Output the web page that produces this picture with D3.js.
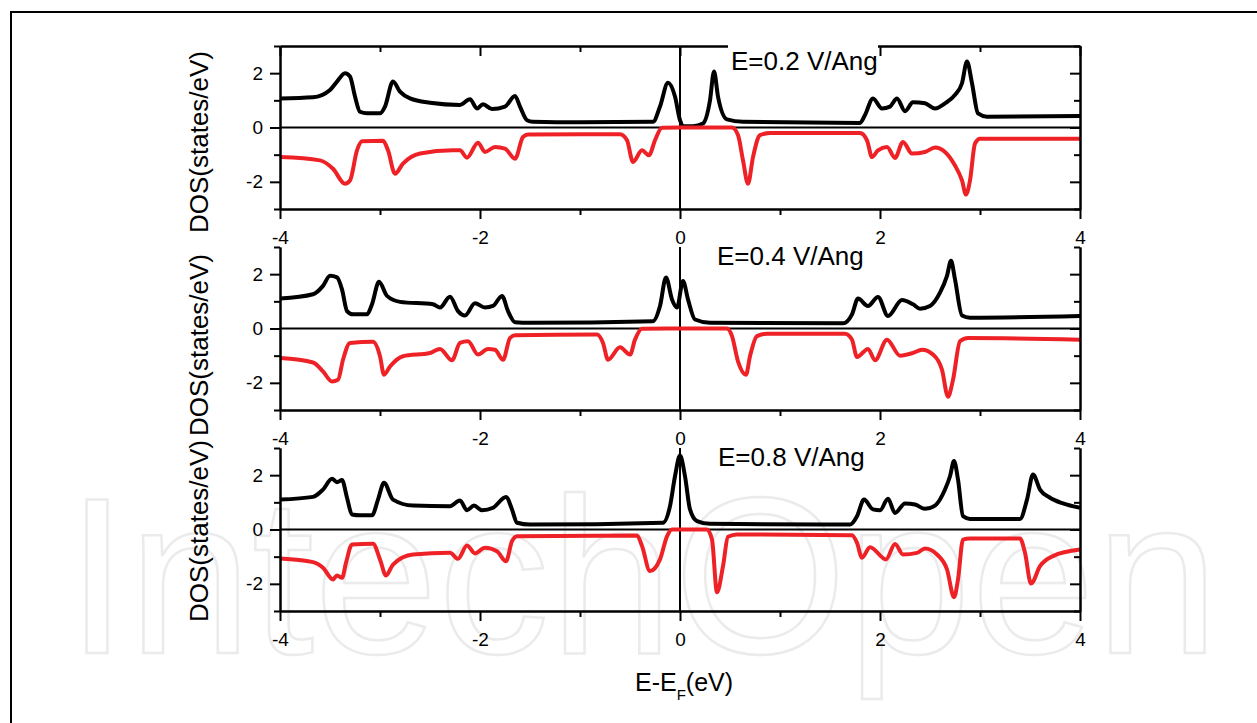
<!DOCTYPE html>
<html>
<head>
<meta charset="utf-8">
<script src="https://cdnjs.cloudflare.com/ajax/libs/d3/7.8.5/d3.min.js"></script>
<style>
	body { margin: 0; background: #ffffff; }
	svg { display: block; font-family: "Liberation Sans", Arial, sans-serif; }
</style>
</head>
<body>
<svg id="svg-port" width="1257" height="723"></svg>
<script>
// DOS: energy (eV) and states/eV, spin up (black) and spin down (red)
var upE02 = [-4, -3.67, -3.5, -3.43, -3.35, -3.3, -3.25, -3.2, -3.13, -3.0, -2.95, -2.87, -2.8, -2.7, -2.5, -2.2, -2.1, -2.03, -1.97, -1.88, -1.75, -1.65, -1.6, -1.53, -1.47, -1.0, -0.27, -0.2, -0.12, -0.05, 0.0, 0.03, 0.13, 0.23, 0.3, 0.34, 0.38, 0.47, 0.63, 1.8, 1.85, 1.93, 2.02, 2.1, 2.17, 2.25, 2.33, 2.45, 2.55, 2.65, 2.75, 2.82, 2.87, 2.92, 2.98, 3.07, 4.0];
var up02 = [1.07, 1.11, 1.38, 1.69, 2.0, 1.88, 1.14, 0.58, 0.52, 0.52, 0.77, 1.69, 1.32, 1.07, 0.91, 0.83, 1.04, 0.70, 0.86, 0.68, 0.77, 1.16, 0.77, 0.27, 0.21, 0.19, 0.21, 0.77, 1.65, 1.14, 0.27, 0.05, 0.05, 0.15, 1.0, 2.06, 1.14, 0.3, 0.21, 0.17, 0.46, 1.07, 0.70, 0.77, 1.07, 0.6, 0.93, 0.89, 0.70, 0.89, 1.2, 1.63, 2.43, 1.63, 0.52, 0.40, 0.42];
var dnE02 = [-4, -3.6, -3.47, -3.35, -3.3, -3.23, -3.18, -2.97, -2.92, -2.85, -2.77, -2.6, -2.27, -2.2, -2.13, -2.02, -1.95, -1.85, -1.75, -1.65, -1.57, -1.52, -0.6, -0.53, -0.47, -0.38, -0.31, -0.25, -0.18, 0, 0.52, 0.58, 0.63, 0.68, 0.73, 0.8, 0.9, 1.8, 1.87, 1.92, 1.98, 2.07, 2.15, 2.23, 2.32, 2.45, 2.55, 2.65, 2.75, 2.82, 2.86, 2.9, 2.95, 3.0, 4.0];
var dn02 = [-1.09, -1.21, -1.52, -2.07, -1.95, -0.84, -0.51, -0.49, -0.84, -1.7, -1.33, -0.96, -0.84, -0.84, -1.11, -0.56, -0.9, -0.72, -0.78, -1.15, -0.35, -0.26, -0.25, -0.47, -1.27, -0.84, -1.02, -0.47, -0.01, 0, 0, -0.28, -1.21, -2.07, -1.09, -0.28, -0.2, -0.2, -0.47, -1.09, -0.84, -0.72, -1.12, -0.53, -0.96, -0.9, -0.74, -0.9, -1.4, -1.95, -2.47, -1.95, -0.59, -0.41, -0.41];

var upE04 = [-4, -3.67, -3.57, -3.5, -3.43, -3.38, -3.33, -3.27, -3.13, -3.08, -3.01, -2.93, -2.8, -2.47, -2.4, -2.3, -2.22, -2.15, -2.05, -1.95, -1.87, -1.78, -1.72, -1.65, -1.5, -0.27, -0.2, -0.14, -0.08, -0.03, 0.03, 0.08, 0.15, 0.3, 1.63, 1.72, 1.78, 1.88, 1.98, 2.08, 2.22, 2.33, 2.4, 2.5, 2.6, 2.67, 2.71, 2.75, 2.82, 2.9, 4.0];
var up04 = [1.1, 1.26, 1.57, 1.94, 1.88, 1.44, 0.64, 0.52, 0.52, 0.89, 1.72, 1.2, 0.98, 0.89, 0.77, 1.17, 0.64, 0.48, 0.93, 0.77, 0.83, 1.2, 0.64, 0.23, 0.21, 0.27, 0.83, 1.88, 1.07, 0.77, 1.75, 1.07, 0.33, 0.21, 0.19, 0.52, 1.1, 0.83, 1.16, 0.46, 1.05, 0.89, 0.73, 0.83, 1.32, 1.94, 2.49, 1.81, 0.48, 0.4, 0.46];
var dnE04 = [-4, -3.67, -3.57, -3.48, -3.42, -3.37, -3.3, -3.07, -3.0, -2.96, -2.9, -2.77, -2.5, -2.4, -2.28, -2.2, -2.12, -2.02, -1.92, -1.85, -1.77, -1.7, -1.65, -0.83, -0.77, -0.72, -0.6, -0.5, -0.45, -0.38, 0, 0.47, 0.52, 0.58, 0.66, 0.7, 0.77, 0.87, 1.65, 1.72, 1.77, 1.88, 1.95, 2.07, 2.2, 2.33, 2.42, 2.53, 2.62, 2.68, 2.73, 2.8, 2.88, 4.0];
var dn04 = [-1.09, -1.25, -1.58, -1.95, -1.89, -1.15, -0.53, -0.49, -1.02, -1.7, -1.4, -1.02, -0.9, -0.75, -1.17, -0.53, -0.47, -0.96, -0.75, -0.78, -1.15, -0.35, -0.25, -0.22, -0.53, -1.15, -0.69, -0.96, -0.41, -0.01, 0, 0, -0.28, -1.21, -1.7, -1.02, -0.28, -0.19, -0.19, -0.41, -1.05, -0.75, -1.17, -0.41, -1.0, -0.9, -0.78, -0.96, -1.52, -2.51, -1.89, -0.47, -0.35, -0.41];

var upE08 = [-4, -3.67, -3.57, -3.48, -3.43, -3.38, -3.33, -3.28, -3.2, -3.08, -3.02, -2.96, -2.87, -2.67, -2.3, -2.2, -2.13, -2.06, -1.98, -1.87, -1.74, -1.68, -1.63, -1.5, -0.17, -0.1, -0.05, 0.0, 0.05, 0.1, 0.17, 0.3, 1.7, 1.77, 1.84, 1.93, 2.0, 2.08, 2.15, 2.25, 2.35, 2.45, 2.55, 2.65, 2.7, 2.74, 2.78, 2.83, 2.9, 3.4, 3.47, 3.53, 3.6, 3.7, 3.83, 4.0];
var up08 = [1.1, 1.2, 1.47, 1.87, 1.74, 1.82, 1.17, 0.55, 0.52, 0.52, 1.1, 1.72, 1.1, 0.88, 0.86, 1.07, 0.71, 0.88, 0.71, 0.8, 1.2, 0.74, 0.25, 0.18, 0.25, 0.86, 1.96, 2.72, 1.96, 0.74, 0.31, 0.21, 0.18, 0.49, 1.1, 0.74, 0.71, 1.13, 0.61, 0.96, 0.92, 0.76, 0.88, 1.47, 1.96, 2.52, 1.84, 0.49, 0.39, 0.39, 1.1, 2.02, 1.47, 1.17, 0.96, 0.8];
var dnE08 = [-4, -3.67, -3.57, -3.47, -3.43, -3.38, -3.34, -3.28, -3.07, -3.0, -2.94, -2.87, -2.67, -2.3, -2.22, -2.13, -2.05, -1.95, -1.83, -1.74, -1.68, -1.63, -0.43, -0.38, -0.3, -0.2, -0.13, -0.08, 0.27, 0.32, 0.37, 0.43, 0.48, 0.57, 1.72, 1.77, 1.82, 1.9, 2.06, 2.15, 2.23, 2.37, 2.45, 2.57, 2.67, 2.74, 2.78, 2.83, 2.9, 3.4, 3.45, 3.51, 3.6, 3.73, 4.0];
var dn08 = [-1.07, -1.2, -1.41, -1.84, -1.69, -1.78, -1.23, -0.55, -0.52, -1.1, -1.69, -1.29, -0.92, -0.86, -1.08, -0.59, -0.88, -0.67, -0.8, -1.17, -0.43, -0.25, -0.22, -0.61, -1.53, -1.1, -0.25, 0, 0, -0.37, -2.31, -1.35, -0.27, -0.18, -0.21, -0.49, -1.04, -0.65, -1.1, -0.53, -0.92, -0.86, -0.7, -0.92, -1.47, -2.49, -1.84, -0.37, -0.33, -0.33, -0.86, -1.99, -1.35, -0.98, -0.74];

var fieldLabels = ['E=0.2 V/Ang', 'E=0.4 V/Ang', 'E=0.8 V/Ang'];
var xMajor = [-4, -2, 0, 2, 4];
var xMinor = [-3, -1, 1, 3];
var yMajor = [-2, 0, 2];
var yMinor = [-3, -1, 1, 3];

var panels = [
	{up: d3.zip(upE02, up02), dn: d3.zip(dnE02, dn02), label: fieldLabels[0]},
	{up: d3.zip(upE04, up04), dn: d3.zip(dnE04, dn04), label: fieldLabels[1]},
	{up: d3.zip(upE08, up08), dn: d3.zip(dnE08, dn08), label: fieldLabels[2]}
];

var red = '#ee2226';
var svg = d3.select('#svg-port');
var xScale = d3.scaleLinear().domain([-4, 4]).range([280, 1080]);
var panelTop = 46, panelHeight = 163, panelStep = 201;
var yLabelCenters = [142, 345, 531];
var fieldLabelPos = [[731, 70], [717, 265], [718, 466]];

// faint publisher watermark behind the plot
svg.append('text')
	.attr('x', 66)
	.attr('y', 653)
	.style('font-size', '223px')
	.style('fill', 'none')
	.style('stroke', '#ebebeb')
	.style('stroke-width', 2.5)
	.text('IntechOpen');

// outer frame (only top and left edges show)
svg.append('path')
	.attr('d', 'M11,723 L11,12 L1257,12')
	.style('fill', 'none')
	.style('stroke', '#000')
	.style('stroke-width', 2);

function styleAxis(g, fontSize) {
	g.select('.domain').style('stroke', '#000').style('stroke-width', 2);
	g.selectAll('.tick line').style('stroke', '#000').style('stroke-width', 2);
	g.selectAll('.tick text').style('font-size', fontSize).style('fill', '#000')
		.style('font-family', '"Liberation Sans", Arial, sans-serif');
}

function fmt(d) {
	return String(d);
}

panels.forEach(function (p, i) {
	var top = panelTop + i * panelStep;
	var bottom = top + panelHeight;
	var yScale = d3.scaleLinear().domain([-3, 3]).range([bottom, top]);
	var g = svg.append('g');

	// zero lines
	g.append('line')
		.attr('x1', xScale(-4)).attr('x2', xScale(4))
		.attr('y1', yScale(0)).attr('y2', yScale(0))
		.style('stroke', '#000').style('stroke-width', 2);
	g.append('line')
		.attr('x1', xScale(0)).attr('x2', xScale(0))
		.attr('y1', top).attr('y2', bottom)
		.style('stroke', '#000').style('stroke-width', 2);

	var line = d3.line()
		.x(function (d) { return xScale(d[0]); })
		.y(function (d) { return yScale(d[1]); })
		.curve(d3.curveMonotoneX);

	g.append('path').datum(p.up).attr('d', line)
		.style('fill', 'none').style('stroke', '#000').style('stroke-width', 4)
		.style('stroke-linejoin', 'round');
	g.append('path').datum(p.dn).attr('d', line)
		.style('fill', 'none').style('stroke', red).style('stroke-width', 4)
		.style('stroke-linejoin', 'round');

	// bottom axis
	var xb = g.append('g').attr('transform', 'translate(0,' + bottom + ')')
		.call(d3.axisBottom(xScale).tickValues(xMajor).tickSize(10).tickSizeOuter(0).tickPadding(12).tickFormat(fmt));
	styleAxis(xb, '19px');
	var xbm = g.append('g').attr('transform', 'translate(0,' + bottom + ')')
		.call(d3.axisBottom(xScale).tickValues(xMinor).tickSize(6).tickSizeOuter(0).tickFormat(''));
	styleAxis(xbm, '19px');

	// left axis
	var yl = g.append('g').attr('transform', 'translate(' + xScale(-4) + ',0)')
		.call(d3.axisLeft(yScale).tickValues(yMajor).tickSize(10).tickSizeOuter(0).tickPadding(7).tickFormat(fmt));
	styleAxis(yl, '19px');
	var ylm = g.append('g').attr('transform', 'translate(' + xScale(-4) + ',0)')
		.call(d3.axisLeft(yScale).tickValues(yMinor).tickSize(6).tickSizeOuter(0).tickFormat(''));
	styleAxis(ylm, '19px');

	// right axis, ticks pointing inwards
	var yr = g.append('g').attr('transform', 'translate(' + xScale(4) + ',0)')
		.call(d3.axisLeft(yScale).tickValues(yMajor).tickSize(10).tickSizeOuter(0).tickFormat(''));
	styleAxis(yr, '19px');
	var yrm = g.append('g').attr('transform', 'translate(' + xScale(4) + ',0)')
		.call(d3.axisLeft(yScale).tickValues(yMinor).tickSize(6).tickSizeOuter(0).tickFormat(''));
	styleAxis(yrm, '19px');

	// only the first panel keeps a top axis
	if (i === 0) {
		var xt = g.append('g').attr('transform', 'translate(0,' + top + ')')
			.call(d3.axisBottom(xScale).tickValues(xMajor).tickSize(10).tickSizeOuter(0).tickFormat(''));
		styleAxis(xt, '19px');
		var xtm = g.append('g').attr('transform', 'translate(0,' + top + ')')
			.call(d3.axisBottom(xScale).tickValues(xMinor).tickSize(6).tickSizeOuter(0).tickFormat(''));
		styleAxis(xtm, '19px');
		g.append('rect')
			.attr('x', fieldLabelPos[i][0] - 3).attr('y', top - 8)
			.attr('width', 150).attr('height', 38)
			.style('fill', '#fff');
	}

	g.append('text')
		.attr('x', fieldLabelPos[i][0])
		.attr('y', fieldLabelPos[i][1])
		.style('font-size', '26px')
		.text(p.label);

	svg.append('text')
		.attr('transform', 'translate(208,' + yLabelCenters[i] + ') rotate(-90)')
		.attr('text-anchor', 'middle')
		.style('font-size', '26px')
		.text('DOS(states/eV)');
});

// x axis title with subscript F
var xt = svg.append('text')
	.attr('x', 684)
	.attr('y', 691)
	.attr('text-anchor', 'middle')
	.style('font-size', '25px');
xt.append('tspan').text('E-E');
xt.append('tspan').attr('dy', 9).style('font-size', '15px').text('F');
xt.append('tspan').attr('dy', -9).text('(eV)');
</script>
</body>
</html>
